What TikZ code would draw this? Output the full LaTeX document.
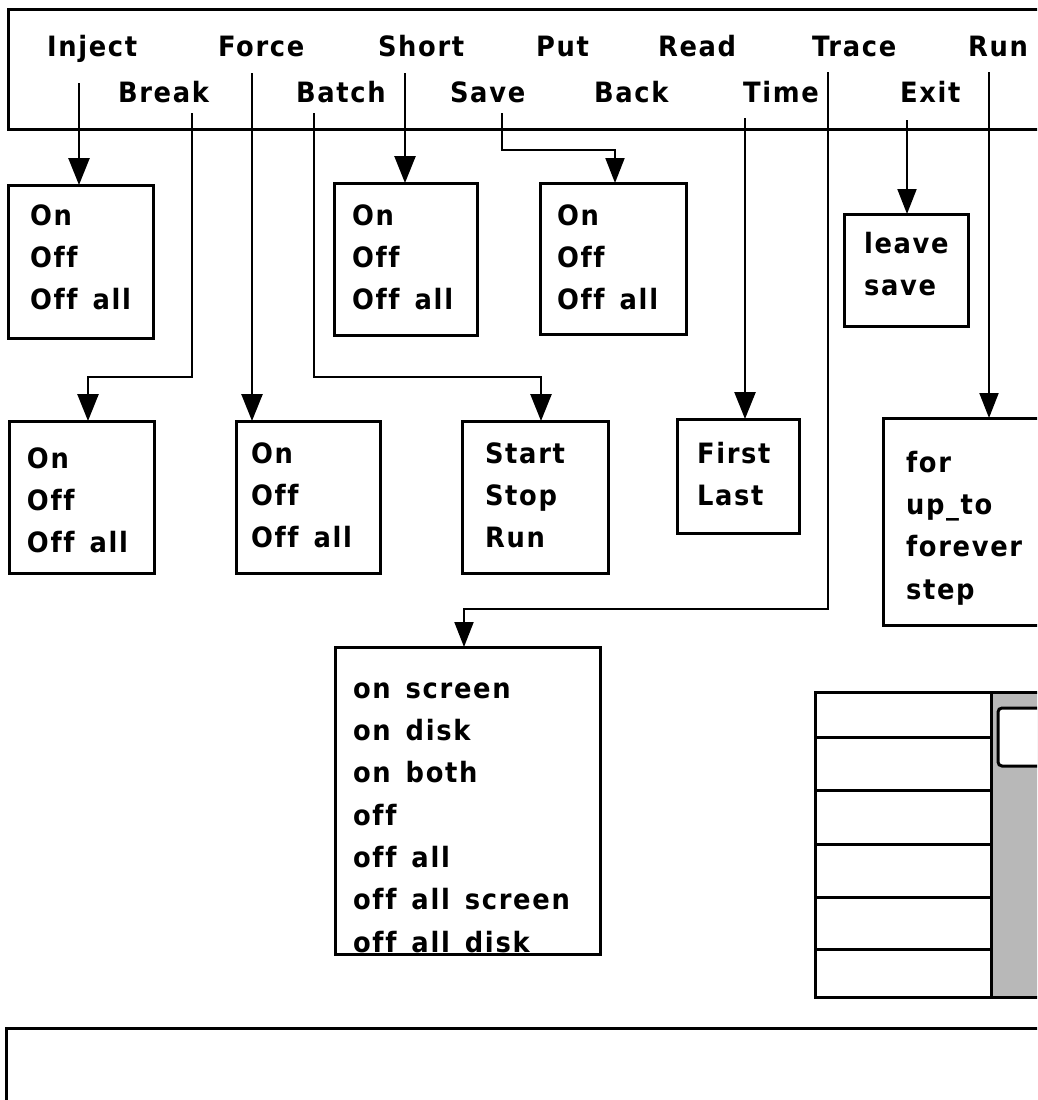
\documentclass[tikz,border=0pt]{standalone}
\usepackage{fontspec}
\newfontfamily\chic[LetterSpace=6,Ligatures=NoCommon,FakeStretch=0.92]{DejaVu Sans}
\newcommand\wsp{\nobreak\hspace{15pt}\nobreak}
\usetikzlibrary{arrows.meta}
\begin{document}
\begin{tikzpicture}[x=1pt,y=-1pt,
  every node/.style={font=\chic\bfseries\fontsize{28}{42.3}\selectfont, inner sep=0pt, outer sep=0pt},
  menu/.style={anchor=base west},
  mbox/.style={draw, line width=3pt, anchor=north west, align=left, inner ysep=0pt},
  conn/.style={line width=2.6pt, -{Triangle[length=27pt,width=21pt]}},
  thinconn/.style={line width=2pt, -{Triangle[length=25pt,width=19pt]}},
  frame/.style={line width=3pt}]
\useasboundingbox (0,0) rectangle (1037,1100);
\fill[white] (0,0) rectangle (1037,1100);
\clip (0,0) rectangle (1037,1100);

% menu bar
\draw[frame] (8,9) rectangle (1060,129);
\node[menu] (mInject) at (47,56) {Inject};
\node[menu] (mForce)  at (218,56) {Force};
\node[menu] (mShort)  at (378,56) {Short};
\node[menu] (mPut)    at (536,56) {Put};
\node[menu] (mRead)   at (658,56) {Read};
\node[menu] (mTrace)  at (812,56) {Trace};
\node[menu] (mRun)    at (968,56) {Run};
\node[menu] (mBreak)  at (118,102) {Break};
\node[menu] (mBatch)  at (296,102) {Batch};
\node[menu] (mSave)   at (450,102) {Save};
\node[menu] (mBack)   at (594,102) {Back};
\node[menu] (mTime)   at (743,102) {Time};
\node[menu] (mExit)   at (900,102) {Exit};

% sub-menu boxes
\node[mbox, inner xsep=22pt, text width=101pt] (bInj) at (8,185)
  {\rule{0pt}{40.2pt}On\\Off\\Off\wsp all\rule[-28.2pt]{0pt}{28.2pt}};
\node[mbox, inner xsep=18pt, text width=107pt] (bShort) at (334,183)
  {\rule{0pt}{42.2pt}On\\Off\\Off\wsp all\rule[-25.2pt]{0pt}{25.2pt}};
\node[mbox, inner xsep=17pt, text width=112pt] (bSave) at (540,183)
  {\rule{0pt}{42.2pt}On\\Off\\Off\wsp all\rule[-24.2pt]{0pt}{24.2pt}};
\node[mbox, inner xsep=20pt, text width=84pt] (bExit) at (844,214)
  {\rule{0pt}{39.2pt}leave\\save\rule[-30.5pt]{0pt}{30.5pt}};
\node[mbox, inner xsep=18pt, text width=109pt] (bBreak) at (9,421)
  {\rule{0pt}{47.2pt}On\\Off\\Off\wsp all\rule[-20.2pt]{0pt}{20.2pt}};
\node[mbox, inner xsep=15pt, text width=114pt] (bForce) at (236,421)
  {\rule{0pt}{42.2pt}On\\Off\\Off\wsp all\rule[-25.2pt]{0pt}{25.2pt}};
\node[mbox, inner xsep=23pt, text width=100pt] (bBatch) at (462,421)
  {\rule{0pt}{42.2pt}Start\\Stop\\Run\rule[-25.2pt]{0pt}{25.2pt}};
\node[mbox, inner xsep=20pt, text width=82pt] (bTime) at (677,419)
  {\rule{0pt}{44.2pt}First\\Last\rule[-27.5pt]{0pt}{27.5pt}};
\node[mbox, inner xsep=23pt, text width=134pt] (bRun) at (883,418)
  {\rule{0pt}{54.2pt}for\\up\_to\\forever\\step\rule[-25.9pt]{0pt}{25.9pt}};
\node[mbox, inner xsep=18pt, text width=229pt] (bTrace) at (335,647)
  {\rule{0pt}{51.2pt}on\wsp screen\\on\wsp disk\\on\wsp both\\off\\off\wsp all\\off\wsp all\wsp screen\\off\wsp all\wsp disk\rule[-2.8pt]{0pt}{2.8pt}};

% connector start points and bends
\coordinate (cInject) at (79,83);
\coordinate (cForce)  at (252,73);
\coordinate (cShort)  at (405,73);
\coordinate (cBreak)  at (192,113);
\coordinate (cBatch)  at (314,113);
\coordinate (cSave)   at (502,113);
\coordinate (cTime)   at (745,118);
\coordinate (cTrace)  at (828,72);
\coordinate (cExit)   at (907,120);
\coordinate (cRun)    at (989,72);
\coordinate (kBreak)  at (88,377);
\coordinate (kBatch)  at (541,377);
\coordinate (kSave)   at (615,150);
\coordinate (kTrace)  at (464,609);

\draw[conn] (cInject) -- (cInject |- bInj.north);
\draw[conn] (cForce) -- (cForce |- bForce.north);
\draw[conn] (cShort) -- (cShort |- bShort.north);
\draw[conn] (cBreak) |- (kBreak) -- (kBreak |- bBreak.north);
\draw[conn] (cBatch) |- (kBatch) -- (kBatch |- bBatch.north);
\draw[thinconn] (cSave) |- (kSave) -- (kSave |- bSave.north);
\draw[conn] (cTime) -- (cTime |- bTime.north);
\draw[thinconn] (cTrace) |- (kTrace) -- (kTrace |- bTrace.north);
\draw[thinconn] (cExit) -- (cExit |- bExit.north);
\draw[thinconn] (cRun) -- (cRun |- bRun.north);

% list box with scroll bar
\fill[black!28] (991,692) rectangle (1060,997);
\draw[frame] (815,692) rectangle (1060,997);
\draw[frame] (991,692) -- (991,997);
\foreach \yy in {737,790,844,897,949} \draw[frame] (815,\yy) -- (991,\yy);
\draw[frame, fill=white, rounded corners=4pt] (998,708) rectangle (1052,766);

% bottom box
\draw[frame] (6,1028) rectangle (1060,1120);
\end{tikzpicture}
\end{document}
